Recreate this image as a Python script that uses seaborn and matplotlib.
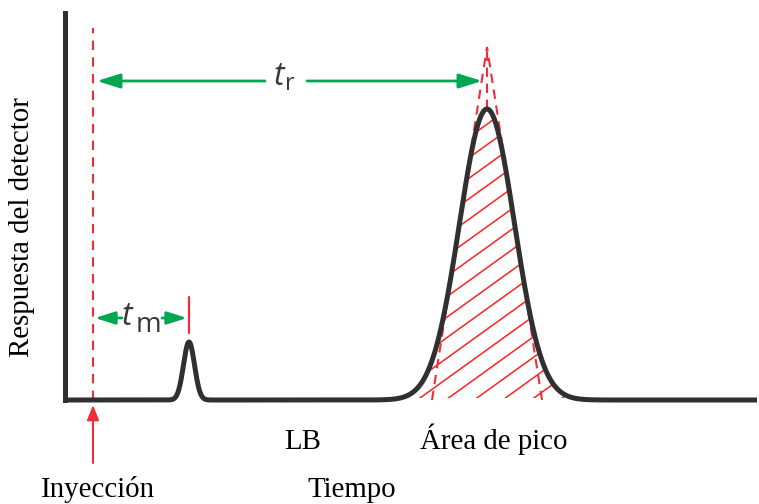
import numpy as np
import pandas as pd
import matplotlib
matplotlib.use("Agg")
import matplotlib.pyplot as plt
import seaborn as sns
from matplotlib.patches import Polygon
from matplotlib.collections import LineCollection

# ---- data (time / response in arbitrary units) ----
peak_labels = ["m", "r"]
peak_time = [124.5, 422.5]
peak_height = [58.0, 291.0]
peak_width = [5.5, 27.5]
t_injection = 28.5
t_end = 692.5
axis_top = 387.0

text_ylabel = "Respuesta del detector"
text_xlabel = "Tiempo"
text_injection = "Inyección"
text_baseline = "LB"
text_area = "Área de pico"

# ---- colours ----
C_CURVE = "#303030"
C_RED = "#ee2e3b"
C_HATCH = "#ff2222"
C_GREEN = "#00a651"
C_T = "#383838"

sns.set_theme(style="white")
plt.rcParams["font.family"] = ["Liberation Serif", "DejaVu Serif"]

time = np.arange(0.0, t_end + 0.25, 0.25)
parts = [h * np.exp(-0.5 * ((time - mu) / s) ** 2)
         for mu, h, s in zip(peak_time, peak_height, peak_width)]
response = np.sum(parts, axis=0)
df = pd.DataFrame({"Tiempo": time, "Respuesta": response})

fig = plt.figure(figsize=(7.59, 5.04), dpi=100)
ax = fig.add_axes([0, 0, 1, 1])
sns.lineplot(data=df, x="Tiempo", y="Respuesta", ax=ax, color=C_CURVE,
             lw=3.6, zorder=5, solid_capstyle="butt", solid_joinstyle="round")
ax.set_xlim(-64.5, 694.5)
ax.set_ylim(-104, 400)
ax.set_xlabel("")
ax.set_ylabel("")
ax.set_xticks([])
ax.set_yticks([])
for side in ["top", "right", "bottom"]:
    ax.spines[side].set_visible(False)
ax.spines["left"].set_position(("data", 0))
ax.spines["left"].set_bounds(0, axis_top)
ax.spines["left"].set_linewidth(3.6)
ax.spines["left"].set_color(C_CURVE)
ax.spines["left"].set_zorder(6)

# ---- peak area hatch (diagonal lines clipped to the area under the peak) ----
mu_r, h_r, s_r = peak_time[1], peak_height[1], peak_width[1]
big = parts[1]
mask = big > 2.0
xs, ys = time[mask], big[mask]
area = Polygon(np.column_stack([np.r_[xs, xs[::-1]], np.r_[ys, np.full(len(xs), 2.0)]]),
               closed=True, fill=False, lw=0, transform=ax.transData)
ax.add_patch(area)
hx0, hx1 = xs.min() - 5, xs.max() + 5
hslope, hstep = 0.72, 20.5
segs = []
for k in range(-12, 30):
    c = 2 + k * hstep
    segs.append([(hx0, c + hslope * (hx0 - 355.5)), (hx1, c + hslope * (hx1 - 355.5))])
lc = LineCollection(segs, colors=C_HATCH, linewidths=1.1, zorder=2)
ax.add_collection(lc)
lc.set_clip_path(area)

# ---- tangents at the inflection points ----
y_inf = h_r * np.exp(-0.5)
slope = h_r / s_r * np.exp(-0.5)
x_base_l = mu_r - s_r - y_inf / slope
x_base_r = mu_r + s_r + y_inf / slope
y_top = slope * (mu_r - x_base_l)
dash_kw = dict(color=C_RED, lw=1.5, dashes=(4.5, 3.2), zorder=3)
ax.plot([x_base_l, mu_r], [0, y_top], **dash_kw)
ax.plot([x_base_r, mu_r], [0, y_top], **dash_kw)
ax.plot([mu_r, mu_r], [h_r, y_top], **dash_kw)

# ---- injection line and arrow ----
ax.plot([t_injection, t_injection], [0, 372], color=C_RED, lw=1.5,
        dashes=(4.5, 3.5), zorder=3)
ax.annotate("", xy=(t_injection, -5), xytext=(t_injection, -63),
            arrowprops=dict(arrowstyle="-|>,head_length=9,head_width=3.6",
                            mutation_scale=1, color=C_RED, lw=1.5,
                            shrinkA=0, shrinkB=0), annotation_clip=False)

# ---- retention-time arrows ----
def garrow(x0, x1, y, hl, hw):
    ax.annotate("", xy=(x1, y), xytext=(x0, y),
                arrowprops=dict(arrowstyle=f"-|>,head_length={hl},head_width={hw}",
                                mutation_scale=1, color=C_GREEN, lw=2,
                                shrinkA=0, shrinkB=0))

SANS = ["Open Sans", "DejaVu Sans"]
y_tr = 319
garrow(200.5, t_injection + 4, y_tr, 14, 4.4)
garrow(242.5, mu_r - 5, y_tr, 14, 4.4)
ax.text(209.0, 315, "t", fontsize=23, family=SANS, style="italic",
        color=C_T, ha="left", va="baseline")
ax.text(220.5, 310, peak_labels[1], fontsize=17, family=SANS,
        color=C_T, ha="left", va="baseline")

mu_m = peak_time[0]
y_tm = 82
garrow(57.5, t_injection + 2, y_tm, 12, 3.8)
garrow(97.5, mu_m - 2, y_tm, 12, 3.8)
ax.plot([mu_m, mu_m], [67, 103], color=C_RED, lw=1.6, zorder=3)
ax.text(57.0, 75, "t", fontsize=23, family=SANS, style="italic",
        color=C_T, ha="left", va="baseline")
ax.text(71.5, 68, peak_labels[0], fontsize=20, family=SANS,
        color=C_T, ha="left", va="baseline")

# ---- labels ----
fs = 20.8
ax.text(-42.5, 173, text_ylabel, rotation=90, fontsize=fs, ha="center",
        va="center", color="black")
ax.text(33, -97, text_injection, fontsize=fs, ha="center", va="baseline",
        color="black", clip_on=False)
ax.text(287.5, -97, text_xlabel, fontsize=fs, ha="center", va="baseline",
        color="black", clip_on=False)
ax.text(238.5, -49, text_baseline, fontsize=fs, ha="center", va="baseline",
        color="black")
ax.text(429.5, -49, text_area, fontsize=fs, ha="center", va="baseline",
        color="black")

fig.savefig("out.png", dpi=100)
